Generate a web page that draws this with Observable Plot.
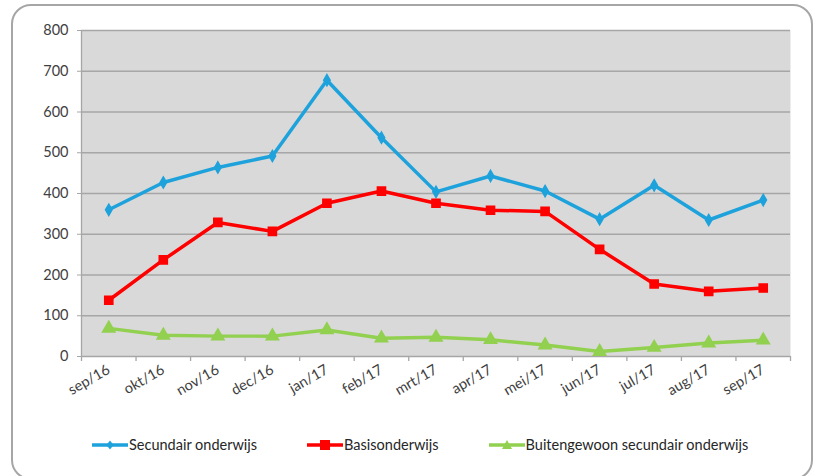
<!DOCTYPE html>
<html>
<head>
<meta charset="utf-8">
<script src="https://cdn.jsdelivr.net/npm/d3@7"></script>
<script src="https://cdn.jsdelivr.net/npm/@observablehq/plot@0.6"></script>
<style>
  html, body { margin: 0; padding: 0; background: #fff; }
  #frame { position: absolute; left: 11px; top: 4px; width: 798px; height: 472px;
    border: 2px solid #a6a6a6; border-radius: 20px; box-sizing: content-box; }
  #chart { position: absolute; left: 0; top: 0; }
  #chart svg { color: #a6a6a6; overflow: visible; }
  #chart svg text { fill: #404040; }
  #legend { position: absolute; left: 92px; top: 436px; display: flex; align-items: center;
    font-family: Lato, "Open Sans", sans-serif; font-size: 14.5px; color: #262626; }
  .item { display: flex; align-items: center; margin-right: 50px; }
  .item svg { display: block; margin-right: 1px; }
</style>
</head>
<body>
<div id="frame"></div>
<div id="chart"></div>
<div id="legend"></div>
<script>
const months = ["sep/16","okt/16","nov/16","dec/16","jan/17","feb/17","mrt/17","apr/17","mei/17","jun/17","jul/17","aug/17","sep/17"];
const seriesNames = ["Secundair onderwijs", "Basisonderwijs", "Buitengewoon secundair onderwijs"];
const secundair = [360, 427, 464, 492, 678, 537, 404, 443, 406, 337, 420, 335, 384];
const basis = [138, 237, 329, 307, 376, 406, 376, 359, 356, 263, 178, 160, 168];
const buitengewoon = [69, 52, 50, 50, 65, 45, 47, 41, 28, 12, 22, 33, 40];
const yTicks = [0, 100, 200, 300, 400, 500, 600, 700, 800];
const colors = ["#1ea2dc", "#ff0000", "#92d050"];
const symbols = ["diamond", "square", "triangle"];
const radii = [3.4, 4.6, 4.6];

const valuesBySeries = [secundair, basis, buitengewoon];
const data = seriesNames.flatMap((s, si) => months.map((m, i) => ({series: s, month: m, value: valuesBySeries[si][i]})));

const W = 819, H = 420, mL = 81, mR = 29, mT = 30, mB = 64;
const step = (W - mL - mR) / months.length;

const marks = [
  Plot.frame({fill: "#d9d9d9", stroke: null}),
  Plot.ruleY(yTicks, {stroke: "#a6a6a6", strokeWidth: 1.3}),
  Plot.ruleX([months[0]], {y1: 0, y2: 800, dx: -step / 2, stroke: "#a6a6a6", strokeWidth: 1.3}),
  Plot.ruleX(months, {y1: 0, y2: 0, insetBottom: -5, dx: -step / 2, stroke: "#a6a6a6", strokeWidth: 1.3}),
  Plot.ruleX([months[months.length - 1]], {y1: 0, y2: 0, insetBottom: -5, dx: step / 2, stroke: "#a6a6a6", strokeWidth: 1.3})
];
seriesNames.forEach((s, si) => {
  const d = data.filter(r => r.series === s);
  marks.push(Plot.line(d, {x: "month", y: "value", stroke: colors[si], strokeWidth: 3.5, strokeLinejoin: "round"}));
  marks.push(Plot.dot(d, {x: "month", y: "value", fill: colors[si], stroke: colors[si], symbol: symbols[si], r: radii[si]}));
});

const chart = Plot.plot({
  width: W, height: H,
  marginLeft: mL, marginRight: mR, marginTop: mT, marginBottom: mB,
  style: {fontFamily: "Lato, 'Open Sans', sans-serif", fontSize: "14.5px", background: "transparent"},
  x: {type: "point", domain: months, padding: 0.5, round: false, tickSize: 0, tickPadding: 12, tickRotate: -30, label: null},
  y: {domain: [0, 800], ticks: yTicks, tickSize: 4, tickPadding: 9, label: null, tickFormat: d => d},
  marks
});
document.getElementById("chart").appendChild(chart);

const legend = document.getElementById("legend");
seriesNames.forEach((s, si) => {
  const item = document.createElement("div");
  item.className = "item";
  const sym = si === 0
    ? `<path d="M18,2.5 L21.5,7 L18,11.5 L14.5,7 Z" fill="${colors[si]}"/>`
    : si === 1
      ? `<rect x="13" y="2" width="10" height="10" fill="${colors[si]}"/>`
      : `<path d="M18,2 L23,11 L13,11 Z" fill="${colors[si]}"/>`;
  item.innerHTML = `<svg width="36" height="14"><line x1="0" y1="7" x2="36" y2="7" stroke="${colors[si]}" stroke-width="3.5"/>${sym}</svg><span>${s}</span>`;
  legend.appendChild(item);
});
</script>
</body>
</html>
